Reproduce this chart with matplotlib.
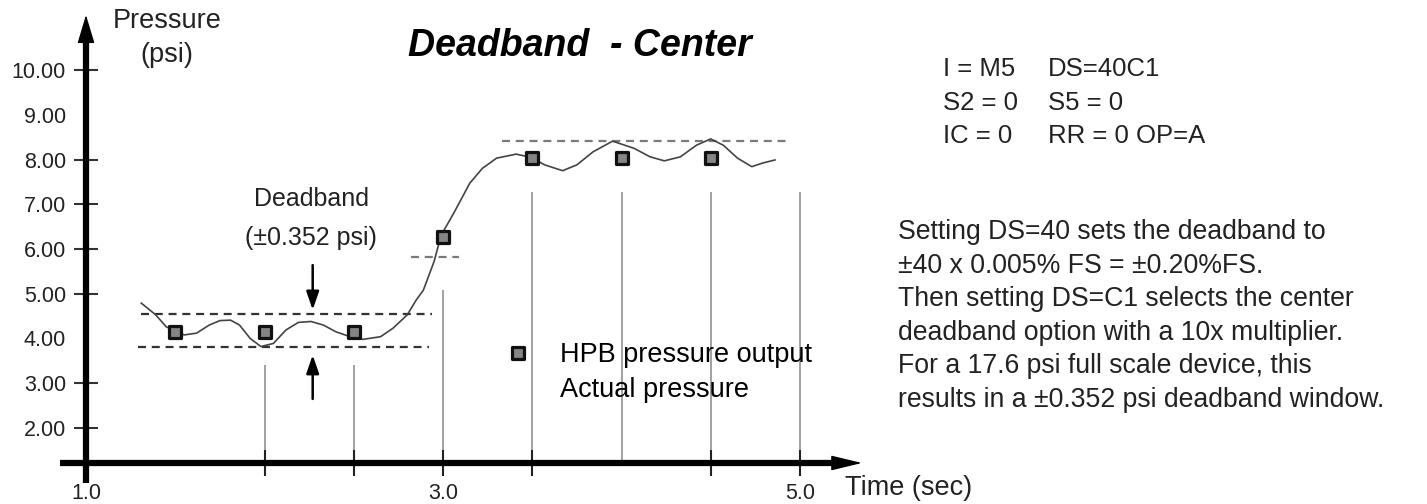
import matplotlib
matplotlib.use('Agg')
import matplotlib.pyplot as plt
from matplotlib.lines import Line2D
from matplotlib.markers import MarkerStyle

plt.rcParams['font.family'] = ['Liberation Sans', 'DejaVu Sans']

# Actual pressure (psi) against time (sec)
actual_t = [1.31, 1.39, 1.45, 1.55, 1.62, 1.69, 1.75, 1.81, 1.86, 1.92, 1.98,
            2.05, 2.12, 2.19, 2.26, 2.33, 2.40, 2.48, 2.55, 2.65, 2.72, 2.80,
            2.85, 2.89, 2.95, 2.99, 3.06, 3.15, 3.22, 3.30, 3.41, 3.49, 3.57,
            3.67, 3.75, 3.84, 3.95, 4.07, 4.16, 4.24, 4.33, 4.42, 4.50, 4.57,
            4.65, 4.73, 4.79, 4.86]
actual_p = [4.79, 4.53, 4.26, 4.08, 4.12, 4.30, 4.40, 4.41, 4.30, 4.00, 3.82,
            3.89, 4.19, 4.36, 4.38, 4.30, 4.15, 4.04, 3.98, 4.04, 4.23, 4.53,
            4.86, 5.08, 5.72, 6.31, 6.80, 7.47, 7.80, 8.03, 8.12, 8.05, 7.88,
            7.75, 7.88, 8.17, 8.41, 8.25, 8.06, 7.97, 8.06, 8.32, 8.46, 8.32,
            8.03, 7.84, 7.92, 7.99]

# HPB pressure output samples
hpb_t = [1.5, 2.0, 2.5, 3.0, 3.5, 4.0, 4.5]
hpb_p = [4.15, 4.15, 4.15, 6.27, 8.03, 8.03, 8.03]

# vertical sample lines
sample_t = [2.0, 2.5, 3.0, 3.5, 4.0, 4.5, 5.0]
sample_top = [3.40, 3.40, 5.08, 7.27, 7.27, 7.27, 7.27]

# deadband limits (dashed)
band_p = [4.54, 3.80, 5.83, 8.42]
band_t0 = [1.31, 1.29, 2.82, 3.33]
band_t1 = [2.94, 2.92, 3.09, 4.95]
band_col = ['#333333', '#333333', '#7a7a7a', '#7a7a7a']

yticks = [2, 3, 4, 5, 6, 7, 8, 9, 10]
xticks = [1.0, 3.0, 5.0]
xminor = [2.0, 2.5, 3.5, 4.5]

settings = [('I = M5', 'DS=40C1'), ('S2 = 0', 'S5 = 0'), ('IC = 0', 'RR = 0 OP=A')]
note = ['Setting DS=40 sets the deadband to',
        '±40 x 0.005% FS = ±0.20%FS.',
        'Then setting DS=C1 selects the center',
        'deadband option with a 10x multiplier.',
        'For a 17.6 psi full scale device, this',
        'results in a ±0.352 psi deadband window.']

W, H = 1427, 504
fig = plt.figure(figsize=(W / 100, H / 100), dpi=100)
ax = fig.add_axes([0, 0, 1, 1])
ax.patch.set_visible(False)

# pixel -> data scale
ax.set_xlim(1 - 86 / 178.5, 1 + (W - 86) / 178.5)
ax.set_ylim(2 - (H - 428) / 44.75, 2 + 428 / 44.75)
x_axis_p = 1.218


def px(x, y):
    return x / W, 1 - y / H


# axes lines
for s in ['top', 'right']:
    ax.spines[s].set_visible(False)
ax.spines['left'].set_position(('data', 1.0))
ax.spines['bottom'].set_position(('data', x_axis_p))
ax.spines['left'].set_bounds(0.77, 10.9)
ax.spines['bottom'].set_bounds(0.854, 5.2)
for s in ['left', 'bottom']:
    ax.spines[s].set_linewidth(4.5)
    ax.spines[s].set_capstyle('butt')

ax.annotate('', xy=(1.0, 11.23), xytext=(1.0, 10.6),
            arrowprops=dict(arrowstyle='-|>,head_length=1.8,head_width=0.54',
                            mutation_scale=10, lw=1, color='black',
                            shrinkA=0, shrinkB=0))
ax.annotate('', xy=(5.347, x_axis_p), xytext=(5.0, x_axis_p),
            arrowprops=dict(arrowstyle='-|>,head_length=1.95,head_width=0.47',
                            mutation_scale=10, lw=1, color='black',
                            shrinkA=0, shrinkB=0))

ax.set_yticks(yticks)
ax.set_yticklabels(['%.2f' % v for v in yticks], fontsize=15.5, color='#222222')
ax.tick_params(axis='y', direction='inout', length=17, width=1.5,
               color='#333333', pad=6)
for v, tk in zip(yticks, ax.yaxis.get_major_ticks()):
    if v in (4, 9):
        tk.tick1line.set_visible(False)

ax.set_xticks(xticks)
ax.set_xticklabels(['%.1f' % v for v in xticks], fontsize=15.5, color='#222222')
ax.set_xticks(xminor, minor=True)
ax.tick_params(axis='x', which='both', direction='inout', length=19,
               width=1.5, color='#222222', pad=5)

# data
ax.vlines(sample_t, x_axis_p, sample_top, color='#888888', lw=1.1, zorder=1)
ax.hlines(band_p, band_t0, band_t1, colors=band_col, lw=1.6,
          linestyles=(0, (3.6, 2.6)), zorder=2)
ax.plot(actual_t, actual_p, color='#444444', lw=1.2, zorder=3,
        solid_joinstyle='round')
mk = MarkerStyle('s', joinstyle='round')
ax.plot(hpb_t, hpb_p, ls='none', marker=mk, ms=8.5, mfc='#858585',
        mec='#111111', mew=2.3, zorder=4)

# deadband arrows
ax.annotate('', xy=(2.27, 4.64), xytext=(2.27, 5.64),
            arrowprops=dict(arrowstyle='-|>,head_length=1.1,head_width=0.38',
                            mutation_scale=10, lw=1.8, color='black',
                            shrinkA=0, shrinkB=0))
ax.annotate('', xy=(2.27, 3.63), xytext=(2.27, 2.65),
            arrowprops=dict(arrowstyle='-|>,head_length=1.1,head_width=0.38',
                            mutation_scale=10, lw=1.8, color='black',
                            shrinkA=0, shrinkB=0))

# legend
handles = [Line2D([], [], ls='none', marker=mk, ms=8.5, mfc='#858585',
                  mec='#111111', mew=2.3),
           Line2D([], [], ls='none')]
ax.legend(handles, ['HPB pressure output', 'Actual pressure'],
          loc='upper left', bbox_to_anchor=px(504, 342), frameon=False,
          fontsize=19.5, handlelength=1.0, handletextpad=1.05,
          labelspacing=0.34, borderaxespad=0, borderpad=0)

# texts
fig.text(*px(580, 56), 'Deadband  - Center', fontsize=27, fontweight='bold',
         fontstyle='italic', ha='center', va='baseline')
fig.text(*px(167, 28), 'Pressure', fontsize=19.5, ha='center', va='baseline',
         color='#222222')
fig.text(*px(167, 62), '(psi)', fontsize=19.5, ha='center', va='baseline',
         color='#222222')
fig.text(*px(311, 206), 'Deadband', fontsize=18, ha='center', va='baseline',
         color='#222222')
fig.text(*px(311, 245), '(±0.352 psi)', fontsize=18, ha='center',
         va='baseline', color='#222222')
fig.text(*px(845, 495), 'Time (sec)', fontsize=19.5, ha='left', va='baseline',
         color='#222222')

for i, (a, b) in enumerate(settings):
    y = 76 + i * 33.5
    fig.text(*px(943, y), a, fontsize=18.5, va='baseline', color='#222222')
    fig.text(*px(1048, y), b, fontsize=18.5, va='baseline', color='#222222')

for i, line in enumerate(note):
    fig.text(*px(898, 239 + i * 33.6), line, fontsize=19.2, va='baseline',
             color='#222222')

fig.savefig('out.png', dpi=100)
